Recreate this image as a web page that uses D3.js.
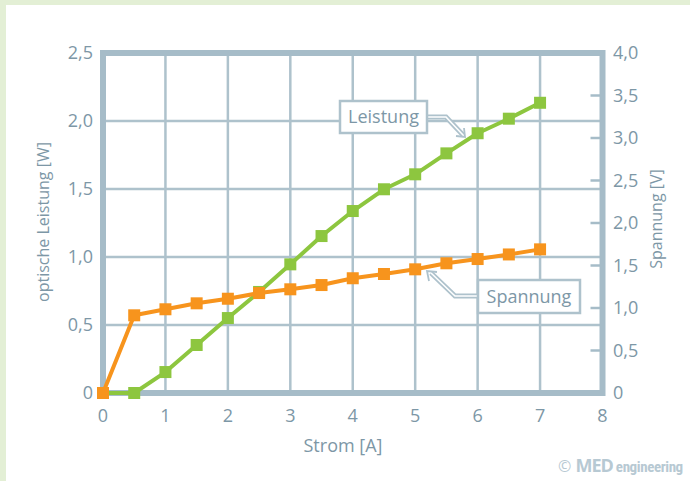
<!DOCTYPE html>
<html><head><meta charset="utf-8">
<script src="https://cdn.jsdelivr.net/npm/d3@7/dist/d3.min.js"></script>
<style>html,body{margin:0;padding:0;background:#fff;}svg{display:block;}</style>
</head><body>
<script>
const strom = [0,0.5,1,1.5,2,2.5,3,3.5,4,4.5,5,5.5,6,6.5,7];
const leistung = [0,0,0.154,0.353,0.551,0.743,0.946,1.154,1.338,1.498,1.608,1.762,1.91,2.017,2.134];
const spannung = [0,0.914,0.985,1.055,1.109,1.176,1.22,1.27,1.35,1.40,1.455,1.526,1.576,1.63,1.69];
const xTicks = [0,1,2,3,4,5,6,7,8];
const xTickLabels = ["0","1","2","3","4","5","6","7","8"];
const wTicks = [0,0.5,1,1.5,2,2.5];
const wTickLabels = ["0","0,5","1,0","1,5","2,0","2,5"];
const vTicks = [0,0.5,1,1.5,2,2.5,3,3.5,4];
const vTickLabels = ["0","0,5","1,0","1,5","2,0","2,5","3,0","3,5","4,0"];

const W = 690, H = 481;
const gridC = "#aec2cc", frameC = "#a6bcc8", textC = "#7d97a6";
const green = "#8dc63f", orange = "#f7941d";
const font = "'Open Sans', 'Noto Sans', sans-serif";

const svg = d3.select("body").append("svg").attr("width", W).attr("height", H)
  .style("font-family", font);

// light green frame
svg.append("rect").attr("x",0).attr("y",0).attr("width",W).attr("height",5).attr("fill","#e3efd5");
svg.append("rect").attr("x",0).attr("y",0).attr("width",6).attr("height",H).attr("fill","#e3efd5");

const x = d3.scaleLinear().domain([0,8]).range([103,602.5]);
const yW = d3.scaleLinear().domain([0,2.5]).range([393,53]);
const yV = d3.scaleLinear().domain([0,4]).range([393,53]);

// grid
const g = svg.append("g");
g.selectAll("line.vg").data(xTicks.slice(1,-1)).join("line")
  .attr("x1", d=>x(d)).attr("x2", d=>x(d)).attr("y1", yW(0)).attr("y2", yW(2.5))
  .attr("stroke", gridC).attr("stroke-width", 2.5);
g.selectAll("line.hg").data(wTicks.slice(1,-1)).join("line")
  .attr("class","hg")
  .attr("x1", x(0)).attr("x2", x(8)).attr("y1", d=>yW(d)).attr("y2", d=>yW(d))
  .attr("stroke", gridC).attr("stroke-width", 2.5);

// right ticks
g.selectAll("line.vt").data(vTicks).join("line").attr("class","vt")
  .attr("x1", x(8)-12).attr("x2", x(8)).attr("y1", d=>yV(d)).attr("y2", d=>yV(d))
  .attr("stroke", frameC).attr("stroke-width", 2.5);

// frame
svg.append("rect").attr("x", x(0)).attr("y", yW(2.5))
  .attr("width", x(8)-x(0)).attr("height", yW(0)-yW(2.5))
  .attr("fill","none").attr("stroke", frameC).attr("stroke-width", 6);

// tick labels
svg.selectAll("text.xl").data(xTicks).join("text").attr("class","xl")
  .attr("x", d=>x(d)).attr("y", 422).attr("text-anchor","middle")
  .attr("fill", textC).attr("font-size", 18).text((d,i)=>xTickLabels[i]);
svg.selectAll("text.wl").data(wTicks).join("text").attr("class","wl")
  .attr("x", 93).attr("y", d=>yW(d)).attr("dy","0.36em").attr("text-anchor","end")
  .attr("fill", textC).attr("font-size", 18).text((d,i)=>wTickLabels[i]);
svg.selectAll("text.vl").data(vTicks).join("text").attr("class","vl")
  .attr("x", 613).attr("y", d=>yV(d)).attr("dy","0.36em").attr("text-anchor","start")
  .attr("fill", textC).attr("font-size", 18).text((d,i)=>vTickLabels[i]);

// axis titles
svg.append("text").attr("x", 343).attr("y", 452).attr("text-anchor","middle")
  .attr("fill", textC).attr("font-size", 18).text("Strom [A]");
svg.append("text").attr("transform","translate(49,222) rotate(-90)").attr("text-anchor","middle")
  .attr("fill", textC).attr("font-size", 16).text("optische Leistung [W]");
svg.append("text").attr("transform","translate(662,219) rotate(-90)").attr("text-anchor","middle")
  .attr("fill", textC).attr("font-size", 16).text("Spannung [V]");

// series
function series(vals, yScale, color) {
  const pts = strom.map((s,i)=>[x(s), yScale(vals[i])]);
  svg.append("path").attr("d", d3.line()(pts)).attr("fill","none")
    .attr("stroke", color).attr("stroke-width", 4).attr("stroke-linejoin","round");
  svg.append("g").selectAll("rect").data(pts).join("rect")
    .attr("x", d=>d[0]-6).attr("y", d=>d[1]-6).attr("width",12).attr("height",12)
    .attr("fill", color);
}
series(leistung, yW, green);
series(spannung, yV, orange);

// callouts
function callout(bx, by, bw, bh, label, pathPts, tip) {
  const line = d3.line();
  svg.append("path").attr("d", line(pathPts)).attr("fill","none")
    .attr("stroke", gridC).attr("stroke-width", 5).attr("stroke-linejoin","miter");
  svg.append("path").attr("d", line(pathPts)).attr("fill","none")
    .attr("stroke", "#fff").attr("stroke-width", 1.6);
  svg.append("path").attr("d", line(tip)).attr("fill","none")
    .attr("stroke", gridC).attr("stroke-width", 1.8);
  svg.append("rect").attr("x", bx).attr("y", by).attr("width", bw).attr("height", bh)
    .attr("fill","#fff").attr("stroke", gridC).attr("stroke-width", 2.5);
  svg.append("text").attr("x", bx+bw/2).attr("y", by+bh/2).attr("dy","0.36em")
    .attr("text-anchor","middle").attr("fill", textC).attr("font-size", 18).text(label);
}
callout(340, 101, 87, 32, "Leistung",
  [[427,117],[446,117],[463,135]],
  [[456,136],[465,137],[464,128]]);
callout(478, 280, 102, 33, "Spannung",
  [[478,296],[455,296],[431,273]],
  [[429,281],[427,271],[437,272]]);

// copyright
const c = svg.append("text").attr("x", 558).attr("y", 472).attr("fill","#b7c9d3");
c.append("tspan").attr("font-size", 16).text("© ");
c.append("tspan").attr("font-size", 18).attr("font-weight","bold").attr("letter-spacing","-1").text("MED");
c.append("tspan").attr("font-size", 15).attr("font-weight","bold").attr("dx", 3)
  .attr("font-family","'Roboto Condensed','Liberation Sans Narrow','Roboto',sans-serif").attr("letter-spacing","-0.4").text("engineering");
</script>
</body></html>
